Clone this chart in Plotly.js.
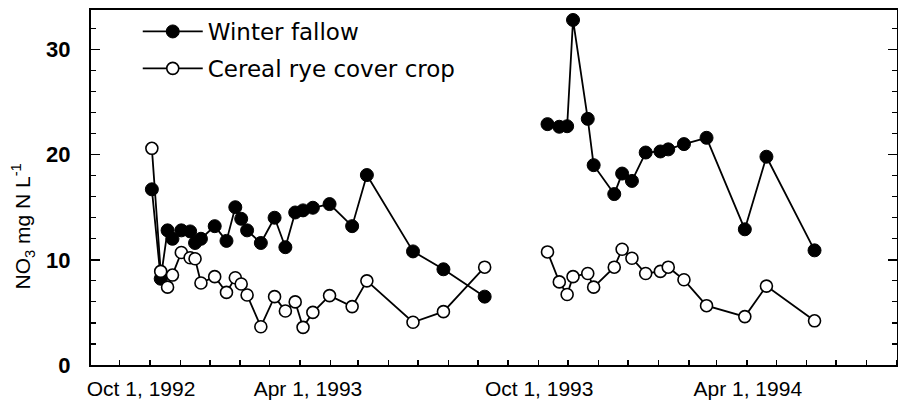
<!DOCTYPE html>
<html>
<head>
<meta charset="utf-8">
<script src="https://cdn.plot.ly/plotly-3.0.1.min.js"></script>
<style>html,body{margin:0;padding:0;background:#fff;}#chart{width:898px;height:402px;}</style>
</head>
<body>
<div id="chart"></div>
<script>
// Sampling dates, season 1 (1992-93) and season 2 (1993-94)
const dates1 = ['1992-08-03','1992-08-12','1992-08-19','1992-08-24','1992-09-02','1992-09-11','1992-09-16','1992-09-22','1992-10-06','1992-10-18','1992-10-27','1992-11-02','1992-11-08','1992-11-22','1992-12-06','1992-12-17','1992-12-27','1993-01-04','1993-01-14','1993-01-31','1993-02-23','1993-03-10','1993-04-26','1993-05-27','1993-07-08'];
const dates2 = ['1993-09-10','1993-09-22','1993-09-30','1993-10-06','1993-10-21','1993-10-27','1993-11-17','1993-11-25','1993-12-05','1993-12-19','1994-01-03','1994-01-11','1994-01-27','1994-02-19','1994-03-30','1994-04-21','1994-06-09'];
const gapDate = '1993-08-15';

// NO3 concentrations (mg N / L)
const fallow1 = [16.7, 8.2, 12.8, 12.0, 12.8, 12.7, 11.6, 12.0, 13.2, 11.8, 15.0, 13.9, 12.8, 11.6, 14.0, 11.2, 14.5, 14.7, 14.95, 15.3, 13.2, 18.06, 10.8, 9.1, 6.5];
const fallow2 = [22.9, 22.65, 22.7, 32.8, 23.4, 19.0, 16.25, 18.2, 17.5, 20.2, 20.3, 20.5, 21.0, 21.6, 12.9, 19.8, 10.9];
const rye1 = [20.6, 8.9, 7.4, 8.55, 10.7, 10.2, 10.1, 7.8, 8.4, 6.9, 8.3, 7.7, 6.65, 3.64, 6.5, 5.13, 6.0, 3.58, 5.0, 6.6, 5.55, 8.0, 4.06, 5.07, 9.3];
const rye2 = [10.75, 7.9, 6.7, 8.4, 8.7, 7.4, 9.3, 11.0, 10.15, 8.7, 8.9, 9.3, 8.1, 5.64, 4.6, 7.5, 4.2];

const seriesNames = ['Winter fallow', 'Cereal rye cover crop'];

// Axis tick labels
const xTickDates = ['1992-07-23', '1993-01-09', '1993-09-01 12:00', '1994-04-02'];
const xTickLabels = ['Oct 1, 1992', 'Apr 1, 1993', 'Oct 1, 1993', 'Apr 1, 1994'];
const yTickVals = [0, 10, 20, 30];
const yTickLabels = ['0', '10', '20', '30'];
const yTitle = 'NO<sub>3</sub> mg N L<sup>-1</sup>';

const xRange = ['1992-06-02', '1994-09-01'];
const yRange = [0, 33.75];

const allDates = dates1.concat([gapDate], dates2);
const fallowAll = fallow1.concat([null], fallow2);
const ryeAll = rye1.concat([null], rye2);

const traces = [
  {
    x: allDates, y: fallowAll, name: seriesNames[0], type: 'scatter', mode: 'lines+markers',
    connectgaps: false, legendgroup: 'a',
    line: {color: '#000', width: 1.8},
    marker: {symbol: 'circle', size: 13, color: '#000', line: {color: '#000', width: 1}}
  },
  {
    x: allDates, y: ryeAll, name: seriesNames[1], type: 'scatter', mode: 'lines+markers',
    connectgaps: false, legendgroup: 'b',
    line: {color: '#000', width: 1.8},
    marker: {symbol: 'circle', size: 12, color: '#fff', line: {color: '#000', width: 1.6}}
  }
];

const layout = {
  width: 898, height: 402,
  margin: {l: 91, r: 1, t: 10, b: 37, pad: 0},
  paper_bgcolor: '#fff', plot_bgcolor: '#fff',
  font: {family: 'Liberation Sans, Arial, sans-serif', color: '#000'},
  showlegend: true,
  legend: {
    x: 0.058, y: 1.0, xanchor: 'left', yanchor: 'top',
    bgcolor: 'rgba(0,0,0,0)', borderwidth: 0,
    font: {family: 'DejaVu Sans, sans-serif', size: 23, color: '#000'},
    itemwidth: 60, tracegroupgap: 4, traceorder: 'grouped'
  },
  xaxis: {
    type: 'date', range: xRange,
    tickmode: 'array', tickvals: xTickDates, ticktext: xTickLabels,
    ticks: '', ticklabelstandoff: 4,
    tickfont: {family: 'Liberation Sans, Arial, sans-serif', size: 21, color: '#000'},
    showline: true, linecolor: '#000', linewidth: 2, mirror: true,
    showgrid: false, zeroline: false,
    minor: {ticks: 'inside', ticklen: 5, tickwidth: 1.5, tickcolor: '#000', dtick: 'M1', tick0: '1992-07-01', showgrid: false}
  },
  xaxis2: {
    type: 'date', range: xRange, overlaying: 'x', anchor: 'y', side: 'bottom',
    tickmode: 'linear', tick0: '1992-07-01', dtick: 'M3',
    ticks: 'inside', ticklen: 10, tickwidth: 1.5, tickcolor: '#000',
    showticklabels: false, showline: false, showgrid: false, zeroline: false
  },
  yaxis: {
    range: yRange, tickmode: 'array', tickvals: yTickVals, ticktext: yTickLabels,
    ticks: 'inside', ticklen: 9, tickwidth: 1.5, tickcolor: '#000',
    ticklabelstandoff: 14,
    tickfont: {family: 'Liberation Sans, Arial, sans-serif', size: 22, color: '#000', weight: 'bold'},
    showline: true, linecolor: '#000', linewidth: 2, mirror: 'ticks',
    showgrid: false, zeroline: false,
    minor: {ticks: 'inside', ticklen: 5, tickwidth: 1.2, tickcolor: '#000', dtick: 2, showgrid: false}
  },
  annotations: [{
    text: yTitle, xref: 'paper', yref: 'paper', x: -0.0844, y: 0.39,
    xanchor: 'center', yanchor: 'middle', textangle: -90, showarrow: false,
    font: {family: 'Liberation Sans, Arial, sans-serif', size: 21, color: '#000'}
  }]
};

Plotly.newPlot('chart', traces, layout, {staticPlot: true, displayModeBar: false});
</script>
</body>
</html>
